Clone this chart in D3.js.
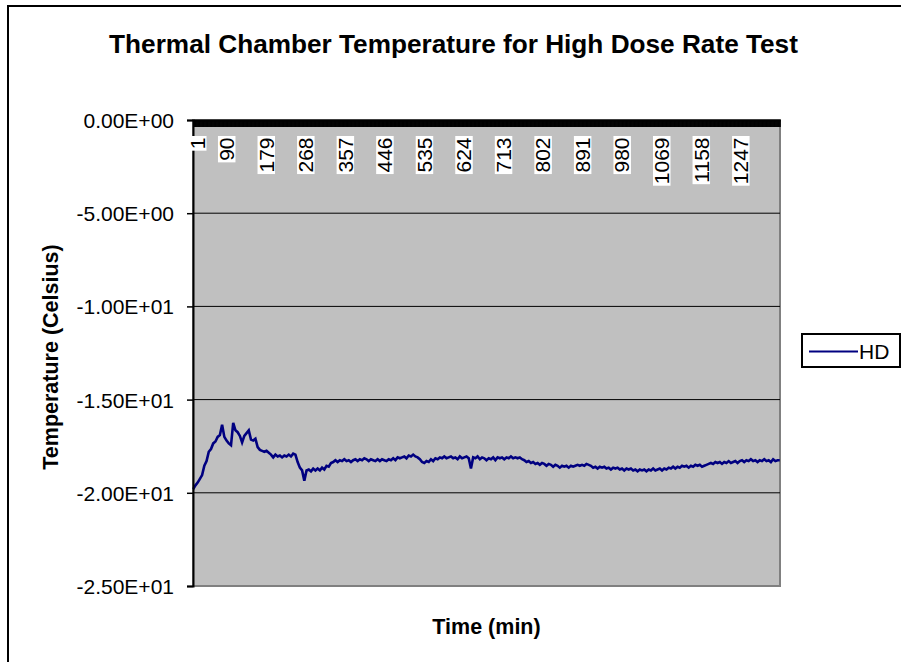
<!DOCTYPE html>
<html>
<head>
<meta charset="utf-8">
<script src="https://cdn.jsdelivr.net/npm/d3@7"></script>
<style>
  html, body { margin: 0; padding: 0; background: #fff; }
  svg { display: block; font-family: "Liberation Sans", Arial, sans-serif; }
</style>
</head>
<body>
<svg id="chart" width="901" height="662"></svg>
<script>
// ---------------- data ----------------
const chartTitle = "Thermal Chamber Temperature for High Dose Rate Test";
const xTitle = "Time (min)";
const yTitle = "Temperature (Celsius)";
const seriesName = "HD";
const minuteCount = 1321;                 // number of categories (minutes)
const categories = d3.range(1, minuteCount + 1);
const xTickLabels = [1, 90, 179, 268, 357, 446, 535, 624, 713, 802, 891, 980, 1069, 1158, 1247];
const yTicks = [0, -5, -10, -15, -20, -25];
const sampleStep = 5;                     // temperatures read every 5 minutes starting at minute 1
const tempHD = [
  -19.80,-19.60,-19.45,-19.25,-19.05,-18.55,-18.30,-17.80,-17.65,-17.35,
  -17.25,-17.00,-16.90,-16.35,-17.00,-17.20,-17.35,-17.45,-16.25,-16.65,
  -16.75,-16.95,-17.30,-16.95,-16.80,-16.65,-17.15,-17.20,-17.10,-17.55,
  -17.70,-17.75,-17.80,-17.75,-17.85,-17.95,-18.10,-17.95,-18.05,-18.00,
  -18.10,-18.00,-18.05,-17.95,-18.05,-17.90,-17.95,-18.35,-18.65,-18.80,
  -19.35,-18.80,-18.75,-18.85,-18.70,-18.80,-18.70,-18.80,-18.65,-18.75,
  -18.55,-18.60,-18.40,-18.35,-18.25,-18.35,-18.25,-18.30,-18.20,-18.30,
  -18.25,-18.35,-18.25,-18.20,-18.30,-18.20,-18.25,-18.15,-18.20,-18.30,
  -18.20,-18.25,-18.30,-18.20,-18.30,-18.20,-18.25,-18.30,-18.20,-18.25,
  -18.15,-18.25,-18.10,-18.15,-18.10,-18.05,-18.15,-18.00,-18.05,-17.95,
  -18.05,-18.10,-18.20,-18.35,-18.40,-18.30,-18.35,-18.20,-18.30,-18.15,
  -18.20,-18.10,-18.15,-18.05,-18.15,-18.10,-18.05,-18.15,-18.10,-18.20,
  -18.05,-18.15,-18.10,-18.05,-18.15,-18.70,-18.10,-18.15,-18.05,-18.20,
  -18.10,-18.15,-18.25,-18.15,-18.20,-18.10,-18.25,-18.10,-18.15,-18.10,
  -18.20,-18.10,-18.15,-18.05,-18.15,-18.10,-18.15,-18.10,-18.20,-18.25,
  -18.35,-18.30,-18.40,-18.35,-18.45,-18.40,-18.50,-18.40,-18.45,-18.55,
  -18.45,-18.50,-18.60,-18.50,-18.55,-18.65,-18.55,-18.60,-18.55,-18.65,
  -18.55,-18.60,-18.55,-18.50,-18.55,-18.50,-18.55,-18.45,-18.50,-18.55,
  -18.65,-18.60,-18.70,-18.60,-18.65,-18.60,-18.70,-18.65,-18.75,-18.65,
  -18.70,-18.65,-18.75,-18.70,-18.80,-18.70,-18.75,-18.70,-18.80,-18.75,
  -18.85,-18.75,-18.80,-18.75,-18.85,-18.75,-18.80,-18.70,-18.80,-18.75,
  -18.70,-18.80,-18.70,-18.75,-18.65,-18.70,-18.60,-18.70,-18.60,-18.65,
  -18.55,-18.60,-18.55,-18.65,-18.55,-18.60,-18.50,-18.55,-18.50,-18.60,
  -18.55,-18.50,-18.45,-18.40,-18.45,-18.35,-18.40,-18.35,-18.45,-18.35,
  -18.40,-18.30,-18.40,-18.35,-18.30,-18.40,-18.30,-18.25,-18.35,-18.25,
  -18.30,-18.20,-18.30,-18.25,-18.35,-18.25,-18.30,-18.20,-18.30,-18.25,
  -18.35,-18.20,-18.30,-18.25,-18.25
];

// ---------------- layout ----------------
const plot = { left: 193, right: 780, top: 120, bottom: 586 };
const font = "'Liberation Sans', Arial, sans-serif";

const svg = d3.select("#chart");
svg.append("rect").attr("width", 901).attr("height", 662).attr("fill", "#fff");

// outer chart border
svg.append("rect")
  .attr("x", 8).attr("y", 6).attr("width", 1000).attr("height", 800)
  .attr("fill", "none").attr("stroke", "#000").attr("stroke-width", 2);

const x = d3.scaleLinear().domain([0.5, minuteCount + 0.5]).range([plot.left, plot.right]);
const y = d3.scaleLinear().domain([-25, 0]).range([plot.bottom, plot.top]);

// plot area
svg.append("rect")
  .attr("x", plot.left).attr("y", plot.top)
  .attr("width", plot.right - plot.left).attr("height", plot.bottom - plot.top)
  .attr("fill", "#c0c0c0").attr("stroke", "#808080").attr("stroke-width", 2);

// gridlines
svg.append("g").selectAll("line")
  .data(yTicks.filter(v => v !== 0 && v !== -25))
  .join("line")
  .attr("x1", plot.left).attr("x2", plot.right)
  .attr("y1", d => y(d)).attr("y2", d => y(d))
  .attr("stroke", "#000").attr("stroke-width", 1);

// series line
const pts = tempHD.map((v, i) => ({ minute: 1 + i * sampleStep, v }));
svg.append("path")
  .datum(pts)
  .attr("fill", "none")
  .attr("stroke", "#000080")
  .attr("stroke-width", 2.6)
  .attr("stroke-linejoin", "miter")
  .attr("d", d3.line().x(d => x(d.minute)).y(d => y(d.v)));

// y axis
function sci(v) {
  if (v === 0) return "0.00E+00";
  const e = Math.floor(Math.log10(Math.abs(v)));
  const m = v / Math.pow(10, e);
  return m.toFixed(2) + "E" + (e < 0 ? "-" : "+") + String(Math.abs(e)).padStart(2, "0");
}
const yAxis = svg.append("g")
  .attr("transform", `translate(${plot.left},0)`)
  .call(d3.axisLeft(y).tickValues(yTicks).tickSize(6).tickPadding(13).tickFormat(sci));
yAxis.select(".domain").attr("stroke", "#000").attr("stroke-width", 2);
yAxis.selectAll(".tick line").attr("stroke", "#000").attr("stroke-width", 1.5);
yAxis.selectAll(".tick text")
  .attr("fill", "#000").style("font-family", font).style("font-size", "21px")
  .attr("dy", "0.36em");

// category axis (crosses at 0 -> top), dense minute ticks pointing into plot
const xAxis = svg.append("g")
  .attr("transform", `translate(0,${y(0)})`)
  .call(d3.axisBottom(x).tickValues(categories).tickSizeInner(7).tickSizeOuter(0).tickFormat(""));
xAxis.select(".domain").attr("stroke", "#000").attr("stroke-width", 2);
xAxis.selectAll(".tick line").attr("stroke", "#000").attr("stroke-width", 1);

// category labels (rotated, white boxes)
const labelTop = 137.5;
const lab = svg.append("g").selectAll("g")
  .data(xTickLabels)
  .join("g")
  .attr("transform", (d, i) => {
    let bx = x(d) + 1.2;
    bx = Math.max(bx, plot.left + 12);
    return `translate(${bx},${labelTop}) rotate(-90)`;
  });
lab.append("rect").attr("class", "bg").attr("fill", "#fff");
lab.append("text")
  .attr("text-anchor", "end")
  .style("font-family", font).style("font-size", "21px")
  .attr("fill", "#000")
  .text(d => String(d));
lab.each(function () {
  const g = d3.select(this);
  const len = g.select("text").node().getComputedTextLength();
  g.select("rect.bg")
    .attr("x", -len - 1.5).attr("y", -16)
    .attr("width", len + 3).attr("height", 17.5);
});

// titles
svg.append("text")
  .attr("x", 453.5).attr("y", 53)
  .attr("text-anchor", "middle")
  .style("font-family", font).style("font-size", "26.2px").style("font-weight", "bold")
  .text(chartTitle);

svg.append("text")
  .attr("x", (plot.left + plot.right) / 2).attr("y", 634)
  .attr("text-anchor", "middle")
  .style("font-family", font).style("font-size", "21.5px").style("font-weight", "bold")
  .text(xTitle);

svg.append("text")
  .attr("transform", `translate(58,357) rotate(-90)`)
  .attr("text-anchor", "middle")
  .style("font-family", font).style("font-size", "21.5px").style("font-weight", "bold")
  .text(yTitle);

// legend
const lg = svg.append("g");
lg.append("rect")
  .attr("x", 802).attr("y", 334).attr("width", 98).attr("height", 33)
  .attr("fill", "#fff").attr("stroke", "#000").attr("stroke-width", 2);
lg.append("line")
  .attr("x1", 809).attr("x2", 858).attr("y1", 351.5).attr("y2", 351.5)
  .attr("stroke", "#000080").attr("stroke-width", 2);
lg.append("text")
  .attr("x", 859).attr("y", 359)
  .style("font-family", font).style("font-size", "21px")
  .text(seriesName);
</script>
</body>
</html>
